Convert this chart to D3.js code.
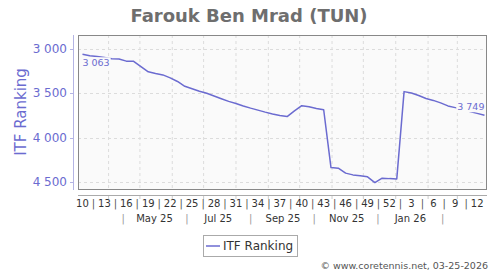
<!DOCTYPE html>
<html>
<head>
<meta charset="utf-8">
<script src="https://cdn.jsdelivr.net/npm/d3@7"></script>
<style>
  html, body { margin: 0; padding: 0; background: #fff; }
  svg { display: block; font-family: "DejaVu Sans", sans-serif; }
</style>
</head>
<body>
<svg id="chart" width="500" height="270"></svg>
<script>
// ---- data ----
const title = "Farouk Ben Mrad (TUN)";
const seriesName = "ITF Ranking";
const firstWeekDate = "2025-03-07"; // week 10 of 2025
const rankings = [
  3063, 3080, 3088, 3099, 3112, 3116, 3140, 3142, 3202, 3260,
  3279, 3295, 3329, 3369, 3423, 3451, 3478, 3502, 3532, 3563,
  3593, 3616, 3644, 3669, 3691, 3714, 3734, 3752, 3764, 3700,
  3641, 3653, 3672, 3687, 4338, 4344, 4400, 4420, 4429, 4442,
  4506, 4457, 4462, 4465, 3483, 3498, 3526, 3560, 3582, 3610,
  3644, 3663, 3683, 3706, 3728, 3749
];
const weekTickLabels = ["10","13","16","19","22","25","28","31","34","37","40","43","46","49","52","3","6","9","12"];
const monthLabels = ["May 25","Jul 25","Sep 25","Nov 25","Jan 26"];
const monthLabelDates = ["2025-05-15","2025-07-15","2025-09-15","2025-11-15","2026-01-15"];
const monthSeparatorDates = ["2025-04-15","2025-06-15","2025-08-15","2025-10-15","2025-12-15","2026-02-15"];
const yTicks = [3000, 3500, 4000, 4500];
const footer = "\u00A9 www.coretennis.net, 03-25-2026";

// ---- build ----
const parse = d3.utcParse("%Y-%m-%d");
const start = parse(firstWeekDate);
const data = rankings.map((v, i) => ({ date: d3.utcDay.offset(start, 7 * i), value: v }));

const fmt = d3.formatLocale({ decimal: ".", thousands: " ", grouping: [3], currency: ["", ""] }).format(",d");

const plot = { left: 78, top: 35, right: 487, bottom: 190 };
const svg = d3.select("#chart");

const firstDate = data[0].date, lastDate = data[data.length - 1].date;
const x = d3.scaleUtc()
  .domain([d3.utcHour.offset(firstDate, -103), d3.utcHour.offset(lastDate, 58)])
  .range([plot.left, plot.right]);
const y = d3.scaleLinear().domain([2846, 4590]).range([plot.top, plot.bottom]);

// title
svg.append("text").attr("x", 249).attr("y", 22).attr("text-anchor", "middle")
  .attr("font-size", 18).attr("font-weight", "bold").attr("fill", "#6e6e6e").text(title);

// plot background
svg.append("rect").attr("x", plot.left).attr("y", plot.top)
  .attr("width", plot.right - plot.left).attr("height", plot.bottom - plot.top)
  .attr("fill", "#fafafa");

// grid
const monthStarts = d3.utcMonth.range(d3.utcMonth.ceil(x.domain()[0]), x.domain()[1]);
svg.append("g").selectAll("line").data(monthStarts).join("line")
  .attr("x1", d => x(d)).attr("x2", d => x(d))
  .attr("y1", plot.top).attr("y2", plot.bottom)
  .attr("stroke", "#dcdcdc").attr("stroke-dasharray", "3,3").attr("stroke-width", 1);
svg.append("g").selectAll("line").data(yTicks).join("line")
  .attr("x1", plot.left).attr("x2", plot.right)
  .attr("y1", d => Math.round(y(d)) + 0.5).attr("y2", d => Math.round(y(d)) + 0.5)
  .attr("stroke", "#dcdcdc").attr("stroke-dasharray", "3,3").attr("stroke-width", 1);

// frame
svg.append("rect").attr("x", plot.left + 0.5).attr("y", plot.top + 0.5)
  .attr("width", plot.right - plot.left - 1).attr("height", plot.bottom - plot.top - 1)
  .attr("fill", "none").attr("stroke", "#888").attr("stroke-width", 1);

// line
const lineColor = "#6b6bd0";
const line = d3.line().x(d => x(d.date)).y(d => y(d.value));
svg.append("path").datum(data).attr("d", line)
  .attr("fill", "none").attr("stroke", lineColor).attr("stroke-width", 1.5)
  .attr("stroke-linejoin", "round");

// point labels (first and last)
function pointLabel(d, anchor, dy) {
  const g = svg.append("g");
  const t = g.append("text").attr("x", x(d.date)).attr("y", y(d.value) + dy)
    .attr("text-anchor", anchor).attr("font-size", 9.5).attr("fill", lineColor)
    .text(fmt(d.value));
  const b = t.node().getBBox();
  g.insert("rect", "text").attr("x", b.x - 1).attr("y", b.y)
    .attr("width", b.width + 2).attr("height", b.height).attr("fill", "#fafafa");
}
pointLabel(data[0], "start", 12);
pointLabel(data[data.length - 1], "end", -5);

// y axis
const yAxisColor = "#6b6bd0";
svg.append("line").attr("x1", 73.5).attr("x2", 73.5).attr("y1", plot.top).attr("y2", plot.bottom)
  .attr("stroke", "#b4b4e4").attr("stroke-width", 1);
const yg = svg.append("g");
yg.selectAll("line").data(yTicks).join("line")
  .attr("x1", 70).attr("x2", 73).attr("y1", d => Math.round(y(d)) + 0.5).attr("y2", d => Math.round(y(d)) + 0.5)
  .attr("stroke", "#b4b4e4");
yg.selectAll("text").data(yTicks).join("text")
  .attr("x", 67).attr("y", d => y(d) + 4.3).attr("text-anchor", "end")
  .attr("font-size", 12).attr("fill", yAxisColor).text(d => fmt(d));
svg.append("text").attr("transform", "translate(26,112) rotate(-90)")
  .attr("text-anchor", "middle").attr("font-size", 15).attr("fill", yAxisColor).text(seriesName);

// x axis
svg.append("line").attr("x1", plot.left).attr("x2", plot.right).attr("y1", 195.5).attr("y2", 195.5)
  .attr("stroke", "#aaa");
svg.append("g").selectAll("line").data(monthStarts).join("line")
  .attr("x1", d => x(d)).attr("x2", d => x(d)).attr("y1", 196).attr("y2", 199)
  .attr("stroke", "#ccc");
const weekDates = weekTickLabels.map((_, i) => data[3 * i].date);
svg.append("g").selectAll("text").data(weekTickLabels).join("text")
  .attr("x", (d, i) => x(weekDates[i])).attr("y", 207).attr("text-anchor", "middle")
  .attr("font-size", 10).attr("fill", "#333").text(d => d);
const weekSeps = weekDates.slice(1).map((d, i) => new Date((d.getTime() + weekDates[i].getTime()) / 2));
svg.append("g").selectAll("text").data(weekSeps).join("text")
  .attr("x", d => x(d)).attr("y", 207).attr("text-anchor", "middle")
  .attr("font-size", 10).attr("fill", "#555").text("|");
svg.append("g").selectAll("text").data(monthLabels).join("text")
  .attr("x", (d, i) => x(parse(monthLabelDates[i]))).attr("y", 222).attr("text-anchor", "middle")
  .attr("font-size", 10).attr("fill", "#333").text(d => d);
svg.append("g").selectAll("text").data(monthSeparatorDates).join("text")
  .attr("x", d => x(parse(d))).attr("y", 222).attr("text-anchor", "middle")
  .attr("font-size", 10).attr("fill", "#999").text("|");

// legend
const lg = svg.append("g");
lg.append("rect").attr("x", 203.5).attr("y", 235.5).attr("width", 94).attr("height", 21)
  .attr("fill", "#fff").attr("stroke", "#aaa");
lg.append("line").attr("x1", 206).attr("x2", 220).attr("y1", 246).attr("y2", 246)
  .attr("stroke", lineColor).attr("stroke-width", 1.5);
lg.append("text").attr("x", 223).attr("y", 250).attr("font-size", 12).attr("fill", "#333").text(seriesName);

// footer
svg.append("text").attr("x", 488).attr("y", 268.5).attr("text-anchor", "end")
  .attr("font-size", 9.5).attr("fill", "#555").text(footer);
</script>
</body>
</html>
